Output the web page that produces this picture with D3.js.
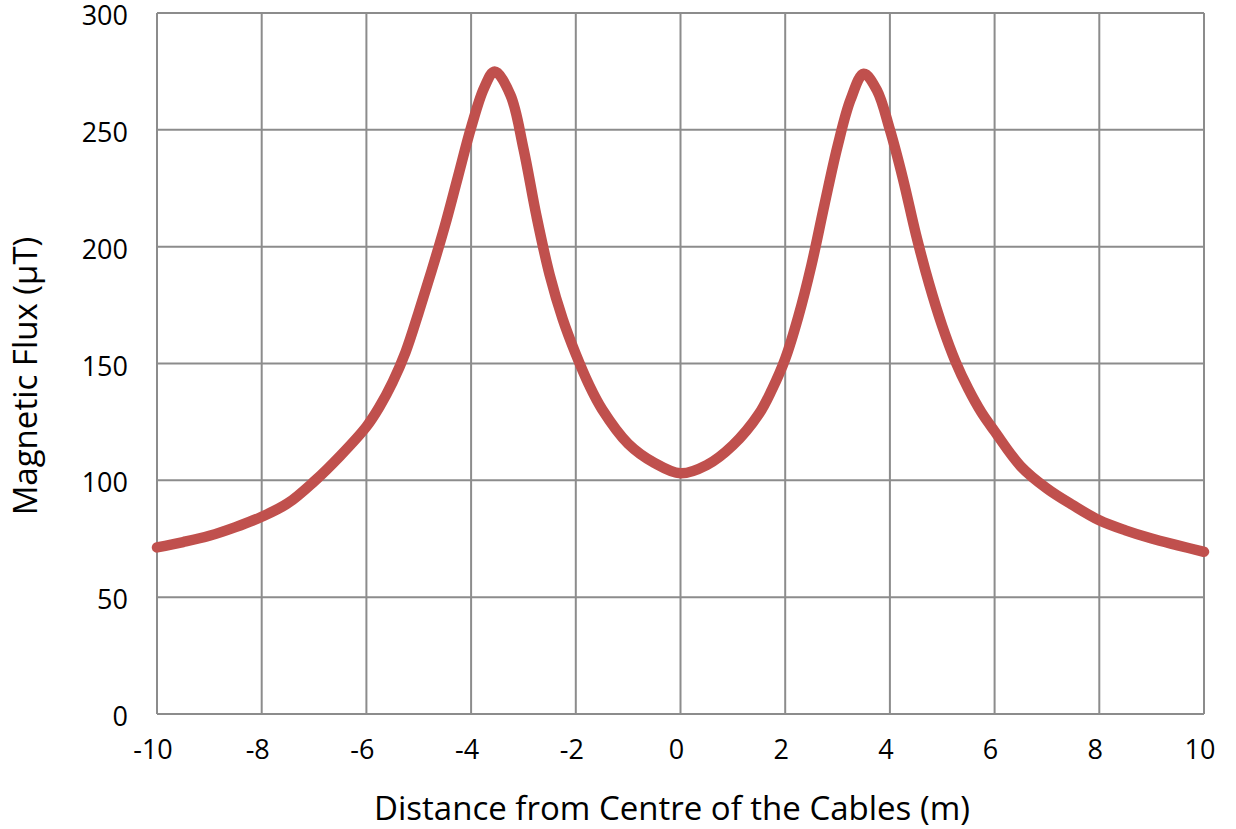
<!DOCTYPE html>
<html>
<head>
<meta charset="utf-8">
<script src="https://cdn.jsdelivr.net/npm/d3@7"></script>
<style>
  body { margin: 0; background: #fff; }
  svg { display: block; font-family: "Open Sans", sans-serif; }
  .grid line { stroke: #8c8c8c; stroke-width: 2; }
  .tick-label { font-size: 27px; fill: #000; }
  .axis-title { font-size: 33px; fill: #000; }
</style>
</head>
<body>
<div id="chart"></div>
<script>
(function(){
    // Data
    const distance = [
        -10, -9.5, -9, -8.5, -8, -7.5, -7, -6.5, -6, -5.75, -5.5, -5.25, -5, -4.75, -4.5, -4.25, -4,
        -3.75, -3.55, -3.25, -3, -2.75, -2.5, -2.25, -2, -1.75, -1.5, -1, -0.5, 0,
        0.5, 1, 1.5, 1.75, 2, 2.25, 2.5, 2.75, 3, 3.25, 3.5, 3.75, 4, 4.25, 4.5, 4.75,
        5, 5.25, 5.5, 5.75, 6, 6.5, 7, 7.5, 8, 8.5, 9, 9.5, 10
    ];
    const flux = [
        71.3, 73.6, 76.3, 80, 84.4, 90.2, 99.5, 110.5, 123, 131.5, 142, 155, 172, 190, 209, 230, 251,
        268, 275, 265, 242, 213, 188, 169, 154, 141, 130.5, 115.7, 107.5, 103,
        106.5, 115, 128.5, 139, 152, 170, 192, 218, 243, 263, 274, 267, 250, 229, 205, 184,
        166, 151, 139, 129, 121, 106, 96.5, 89.3, 82.9, 78.6, 75.1, 72.2, 69.4
    ];
    const xTicks = [-10, -8, -6, -4, -2, 0, 2, 4, 6, 8, 10];
    const yTicks = [0, 50, 100, 150, 200, 250, 300];

    const W = 1236, H = 829;
    const plot = { left: 157, right: 1204, top: 13, bottom: 714 };

    const svg = d3.select("#chart")
        .append("svg")
        .attr("width", W)
        .attr("height", H);

    const x = d3.scaleLinear().domain([-10, 10]).range([plot.left, plot.right]);
    const y = d3.scaleLinear().domain([0, 300]).range([plot.bottom, plot.top]);

    // Grid lines
    const grid = svg.append("g").attr("class", "grid");
    grid.selectAll(".vgrid")
        .data(xTicks)
        .enter()
        .append("line")
        .attr("x1", d => x(d))
        .attr("x2", d => x(d))
        .attr("y1", plot.top)
        .attr("y2", plot.bottom);
    grid.selectAll(".hgrid")
        .data(yTicks)
        .enter()
        .append("line")
        .attr("x1", plot.left)
        .attr("x2", plot.right)
        .attr("y1", d => y(d))
        .attr("y2", d => y(d));

    // Tick labels
    svg.selectAll(".ylab")
        .data(yTicks)
        .enter()
        .append("text")
        .attr("class", "tick-label")
        .attr("x", 128)
        .attr("y", d => y(d) + 12)
        .attr("text-anchor", "end")
        .text(d => d);

    svg.selectAll(".xlab")
        .data(xTicks)
        .enter()
        .append("text")
        .attr("class", "tick-label")
        .attr("x", d => x(d) - 4)
        .attr("y", 759)
        .attr("text-anchor", "middle")
        .text(d => d);

    // Axis titles
    svg.append("text")
        .attr("class", "axis-title")
        .attr("x", 672)
        .attr("y", 820)
        .attr("text-anchor", "middle")
        .text("Distance from Centre of the Cables (m)");

    svg.append("text")
        .attr("class", "axis-title")
        .attr("transform", "translate(37, 376) rotate(-90)")
        .attr("text-anchor", "middle")
        .text("Magnetic Flux (μT)");

    // Line
    const line = d3.line()
        .x((d, i) => x(distance[i]))
        .y(d => y(d))
        .curve(d3.curveCatmullRom.alpha(0.5));

    svg.append("path")
        .datum(flux)
        .attr("fill", "none")
        .attr("stroke", "#c0504d")
        .attr("stroke-width", 10.5)
        .attr("stroke-linejoin", "round")
        .attr("stroke-linecap", "round")
        .attr("d", line);
})();
</script>
</body>
</html>
